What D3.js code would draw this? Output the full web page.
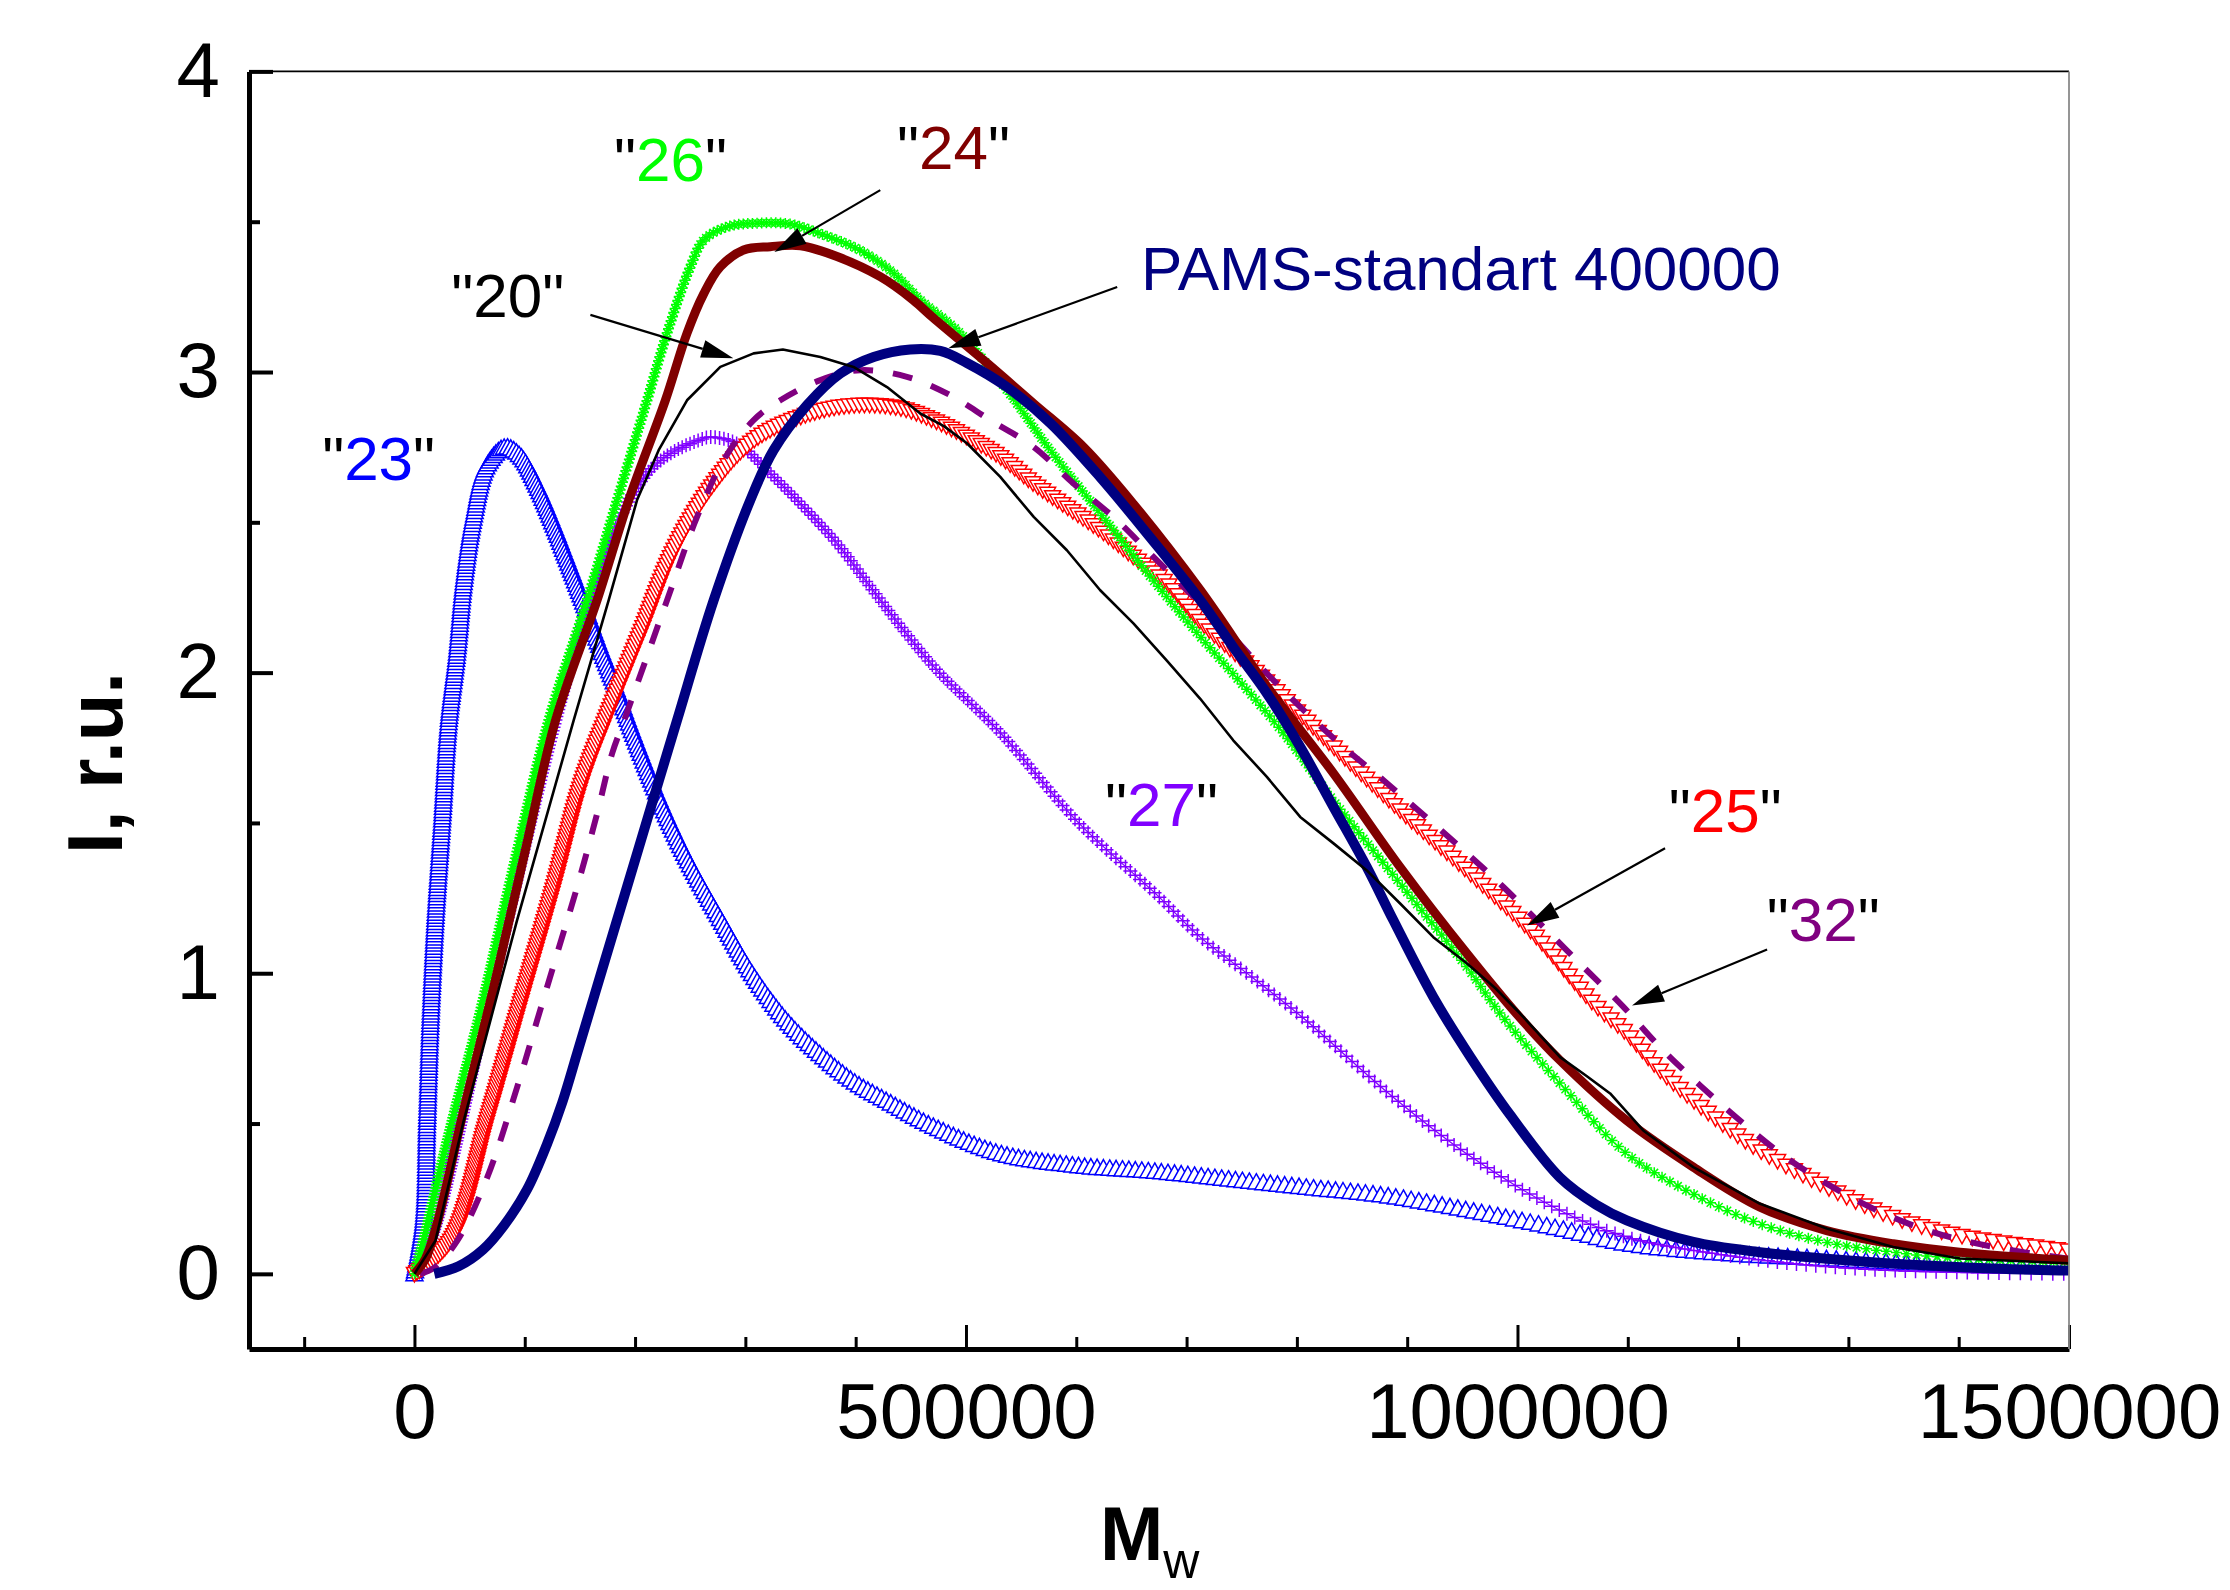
<!DOCTYPE html>
<html>
<head>
<meta charset="utf-8">
<title>Mw distributions</title>
<script src="https://d3js.org/d3.v7.min.js"></script>
<style>
  body { margin: 0; background: #fff; }
  text { font-family: "Liberation Sans", Arial, sans-serif; }
</style>
</head>
<body>
<script>
// curves: [Mw, I (r.u.)]
var s23 = [[0,0],[8400,0.18],[11500,0.51],[14500,0.84],[19000,1.18],[25100,1.51],[31100,1.84],[38700,2.07],[44700,2.30],[53800,2.52],[65900,2.69],[82500,2.75],[96100,2.72],[111200,2.62],[126300,2.49],[140000,2.36],[153500,2.23],[168600,2.08],[183700,1.94],[200000,1.78],[222900,1.57],[247100,1.38],[277300,1.18],[307500,0.99],[337800,0.84],[368000,0.73],[398100,0.64],[428400,0.575],[470600,0.49],[531000,0.40],[600000,0.36],[673000,0.34],[750000,0.31],[815000,0.285],[880000,0.26],[957600,0.21],[1038600,0.15],[1099000,0.10],[1189700,0.067],[1280300,0.05],[1371000,0.034],[1500000,0.022]];
var s26 = [[0,0],[8000,0.11],[30000,0.45],[60000,0.88],[90000,1.36],[121700,1.842],[156500,2.241],[183700,2.574],[210900,2.906],[229000,3.129],[250100,3.35],[262200,3.439],[283400,3.483],[310000,3.495],[341000,3.492],[368000,3.46],[404000,3.405],[434000,3.33],[458600,3.24],[494800,3.129],[537100,2.94],[576400,2.74],[621700,2.53],[667000,2.32],[712400,2.12],[757700,1.931],[787600,1.80],[833000,1.575],[893600,1.298],[954000,1.021],[984300,0.866],[1038600,0.633],[1099000,0.40],[1159000,0.266],[1219900,0.166],[1280300,0.105],[1340700,0.072],[1401000,0.051],[1500000,0.039]];
var s24 = [[0,0],[10000,0.05],[20000,0.16],[45000,0.55],[71900,0.954],[100000,1.40],[128000,1.842],[165600,2.241],[194300,2.574],[227500,2.906],[247100,3.129],[262200,3.26],[277300,3.35],[298400,3.406],[322600,3.417],[350000,3.42],[383100,3.384],[422300,3.317],[452000,3.24],[470400,3.18],[519000,3.03],[561400,2.895],[606700,2.75],[652100,2.56],[712400,2.275],[772800,1.955],[833200,1.665],[893600,1.353],[954000,1.066],[999000,0.866],[1038600,0.71],[1099000,0.51],[1159400,0.355],[1219900,0.222],[1280300,0.144],[1340700,0.10],[1401000,0.072],[1500000,0.045]];
var s20 = [[0,0],[19000,0.11],[44700,0.51],[93000,1.176],[144400,1.842],[176100,2.241],[201800,2.574],[221400,2.74],[247100,2.906],[277300,3.017],[307500,3.062],[334000,3.075],[368000,3.05],[398000,3.017],[428400,2.95],[458600,2.862],[480000,2.82],[500900,2.763],[531100,2.651],[561400,2.518],[591500,2.407],[621700,2.274],[651800,2.164],[682100,2.04],[712400,1.913],[742300,1.775],[772800,1.653],[803000,1.52],[833200,1.432],[863400,1.342],[893600,1.232],[923700,1.12],[954000,1.033],[980000,0.95],[1002400,0.866],[1038600,0.721],[1062000,0.66],[1084000,0.6],[1114000,0.477],[1159400,0.355],[1219900,0.233],[1280300,0.151],[1340700,0.089],[1401000,0.051],[1500000,0.035]];
var sPams = [[18000,0],[40000,0.025],[62000,0.08],[81000,0.16],[102000,0.28],[120000,0.43],[134000,0.57],[148000,0.74],[170000,1.01],[192700,1.287],[215000,1.56],[238100,1.842],[271300,2.241],[304500,2.574],[325600,2.74],[355900,2.89],[386100,2.995],[416300,3.05],[449500,3.075],[476700,3.07],[500900,3.03],[537100,2.95],[576400,2.83],[621700,2.65],[667000,2.45],[712400,2.241],[742300,2.085],[772800,1.931],[803000,1.753],[833200,1.553],[863400,1.353],[887500,1.176],[923800,0.92],[957600,0.72],[993100,0.53],[1038600,0.32],[1071300,0.23],[1099000,0.178],[1159400,0.106],[1219900,0.072],[1280300,0.05],[1340700,0.034],[1431000,0.018],[1500000,0.011]];
var s27 = [[0,0],[14500,0.11],[70000,0.96],[127800,1.842],[159500,2.241],[186700,2.518],[210900,2.662],[232000,2.729],[262200,2.779],[268300,2.784],[292400,2.762],[322600,2.662],[352800,2.551],[383100,2.43],[413300,2.285],[443500,2.141],[473700,2.008],[531100,1.80],[602100,1.50],[673300,1.26],[712400,1.12],[760000,0.985],[806000,0.85],[886500,0.59],[957600,0.39],[1038600,0.211],[1099000,0.122],[1159400,0.078],[1250000,0.034],[1340700,0.011],[1500000,0.0]];
var s25 = [[0,0],[32600,0.11],[65900,0.51],[96100,0.9],[126300,1.287],[150400,1.62],[173100,1.842],[204800,2.13],[235000,2.407],[271300,2.629],[307500,2.773],[352800,2.855],[398100,2.89],[440500,2.88],[470600,2.84],[500900,2.784],[531100,2.718],[561300,2.629],[591500,2.551],[621700,2.474],[651900,2.385],[682200,2.297],[712400,2.17],[772800,1.97],[833200,1.753],[893600,1.542],[954000,1.342],[1014400,1.132],[1068800,0.90],[1099000,0.80],[1129300,0.677],[1159500,0.577],[1189700,0.488],[1219900,0.41],[1280300,0.289],[1340700,0.189],[1401100,0.128],[1500000,0.078]];
var s32 = [[5000,0],[17800,0.02],[38700,0.11],[65900,0.32],[93100,0.621],[111200,0.843],[129300,1.065],[147500,1.287],[165600,1.531],[179200,1.731],[191000,1.85],[229000,2.241],[256200,2.518],[280300,2.707],[307500,2.84],[331700,2.906],[368000,2.973],[404200,3.006],[446500,2.984],[485800,2.923],[522000,2.84],[561300,2.751],[597500,2.629],[636900,2.507],[670000,2.385],[703300,2.263],[736500,2.141],[772800,1.997],[806000,1.875],[842200,1.753],[878500,1.642],[951000,1.409],[987200,1.287],[1023500,1.154],[1059700,1.021],[1096000,0.888],[1129300,0.754],[1165500,0.627],[1203300,0.505],[1241000,0.394],[1280300,0.30],[1322600,0.217],[1363400,0.155],[1404100,0.111],[1449400,0.078],[1500000,0.05]];

// axes
var xMajor = [0, 500000, 1000000, 1500000];
var xMinor = [-100000, 100000, 200000, 300000, 400000, 600000, 700000, 800000, 900000, 1100000, 1200000, 1300000, 1400000];
var yMajor = [0, 1, 2, 3, 4];
var yMinor = [0.5, 1.5, 2.5, 3.5];

// curve labels: text, anchor (Mw, I)
var noteNum = ["26", "24", "20", "23", "27", "25", "32"];
var noteMw  = [181000, 437500, 33300, -83700, 626000, 1137100, 1225900];
var noteI   = [3.634, 3.675, 3.183, 2.64, 1.489, 1.469, 1.106];
var pamsText = "PAMS-standart 400000";
var pamsMw = 658600, pamsI = 3.273;

// arrows: from (Mw, I) to (Mw, I)
var arrowFromMw = [422300, 159500, 637100, 1133800, 1226300];
var arrowFromI  = [3.605, 3.19, 3.283, 1.416, 1.079];
var arrowToMw   = [326300, 289100, 484000, 1008700, 1103800];
var arrowToI    = [3.399, 3.046, 3.079, 1.159, 0.893];

var width = 2230, height = 1590;
var plotLeft = 249, plotRight = 2069, plotTop = 71.4, plotBottom = 1349;

var svg = d3.select("body").append("svg")
  .attr("width", width)
  .attr("height", height);

var x = d3.scaleLinear().domain([-150000, 1500000]).range([plotLeft, plotRight]);
var y = d3.scaleLinear().domain([-0.25, 4]).range([plotBottom, plotTop]);

svg.append("defs").append("clipPath").attr("id", "plot")
  .append("rect").attr("x", plotLeft).attr("y", plotTop)
  .attr("width", plotRight - plotLeft).attr("height", plotBottom - plotTop);

var series = [
  {data: s23, color: "#0000ff", marker: "triUp", size: 17},
  {data: s27, color: "#8000ff", marker: "plus", size: 14},
  {data: s25, color: "#ff0000", marker: "triDown", size: 16},
  {data: s26, color: "#00ff00", marker: "asterisk", size: 11},
  {data: s32, color: "#800080", width: 6, dash: "20,20"},
  {data: s24, color: "#800000", width: 9},
  {data: sPams, color: "#000080", width: 10},
  {data: s20, color: "#000000", width: 2.6, linear: true}
];

function shape(kind, h) {
  var a = h / 2;
  if (kind == "triUp") return "M0," + (-h * 0.5) + "L" + a + "," + (h * 0.4) + "L" + (-a) + "," + (h * 0.4) + "Z";
  if (kind == "triDown") return "M0," + (h * 0.5) + "L" + a + "," + (-h * 0.4) + "L" + (-a) + "," + (-h * 0.4) + "Z";
  if (kind == "plus") return "M" + (-a) + ",0H" + a + "M0," + (-a) + "V" + a;
  var b = a * 0.7;
  return "M" + (-a) + ",0H" + a + "M0," + (-a) + "V" + a +
    "M" + (-b) + "," + (-b) + "L" + b + "," + b + "M" + (-b) + "," + b + "L" + b + "," + (-b);
}

var plot = svg.append("g").attr("clip-path", "url(#plot)");

series.forEach(function(s) {
  var line = d3.line()
    .x(d => x(d[0]))
    .y(d => y(d[1]))
    .curve(s.linear ? d3.curveLinear : d3.curveCatmullRom.alpha(0.5));
  var p = plot.append("path")
    .attr("d", line(s.data))
    .attr("fill", "none")
    .attr("stroke", s.color)
    .attr("stroke-width", s.marker ? 1.2 : s.width)
    .attr("stroke-linejoin", "round");
  if (s.dash) p.attr("stroke-dasharray", s.dash);
  if (!s.marker) return;
  if (s.marker == "asterisk") p.attr("stroke-opacity", 0);

  // symbols spaced along the drawn curve, denser at low Mw like the original scan
  var node = p.node(), total = node.getTotalLength(), pts = [], len = 0;
  while (len <= total) {
    var pt = node.getPointAtLength(len);
    pts.push(pt);
    len += 3 + 8 * (pt.x - x(0)) / (x(1500000) - x(0));
  }
  var filled = s.marker.indexOf("tri") == 0;
  plot.append("g").selectAll("path")
    .data(pts)
    .enter()
    .append("path")
    .attr("transform", d => `translate(${d.x},${d.y})`)
    .attr("d", shape(s.marker, s.size))
    .attr("fill", filled ? "#fff" : "none")
    .attr("stroke", s.color)
    .attr("stroke-width", 1.5);
});

// axes
var fontAxis = "Liberation Sans, Arial, sans-serif";
var gx = svg.append("g")
  .attr("transform", `translate(0,${plotBottom})`)
  .call(d3.axisBottom(x).tickValues(xMajor).tickFormat(d3.format("d"))
    .tickSize(-24).tickSizeOuter(0).tickPadding(34));
gx.attr("font-size", 78).attr("font-family", fontAxis);
gx.select(".domain").attr("stroke-width", 5);
gx.selectAll(".tick line").attr("stroke-width", 3);
gx.selectAll(".tick text").attr("fill", "#000");

var gxm = svg.append("g")
  .attr("transform", `translate(0,${plotBottom})`)
  .call(d3.axisBottom(x).tickValues(xMinor).tickFormat("").tickSize(-12).tickSizeOuter(0));
gxm.select(".domain").remove();
gxm.selectAll(".tick line").attr("stroke-width", 3);

var gy = svg.append("g")
  .attr("transform", `translate(${plotLeft},0)`)
  .call(d3.axisLeft(y).tickValues(yMajor).tickFormat(d3.format("d"))
    .tickSize(-24).tickSizeOuter(0).tickPadding(29));
gy.attr("font-size", 78).attr("font-family", fontAxis);
gy.select(".domain").attr("stroke-width", 5);
gy.selectAll(".tick line").attr("stroke-width", 4);
gy.selectAll(".tick text").attr("fill", "#000");

var gym = svg.append("g")
  .attr("transform", `translate(${plotLeft},0)`)
  .call(d3.axisLeft(y).tickValues(yMinor).tickFormat("").tickSize(-11).tickSizeOuter(0));
gym.select(".domain").remove();
gym.selectAll(".tick line").attr("stroke-width", 4);

// frame top and right
svg.append("line").attr("x1", plotLeft).attr("x2", plotRight).attr("y1", plotTop).attr("y2", plotTop)
  .attr("stroke", "#000").attr("stroke-width", 1.6);
svg.append("line").attr("x1", plotRight).attr("x2", plotRight).attr("y1", plotTop).attr("y2", plotBottom)
  .attr("stroke", "#8a8a8a").attr("stroke-width", 1.8);

// axis titles
svg.append("text")
  .attr("transform", "translate(122,763) rotate(-90)")
  .attr("text-anchor", "middle")
  .attr("font-size", 78)
  .attr("font-weight", "bold")
  .text("I, r.u.");

var mt = svg.append("text").attr("x", 1100).attr("y", 1560);
mt.append("tspan").attr("font-size", 76).attr("font-weight", "bold").text("M");
mt.append("tspan").attr("font-size", 50).attr("dy", 18).text("w");

// curve labels
var noteColor = {"26": "#00ff00", "24": "#800000", "20": "#000000", "23": "#0000ff",
                 "27": "#8000ff", "25": "#ff0000", "32": "#800080"};
noteNum.forEach(function(n, i) {
  var t = svg.append("text")
    .attr("x", x(noteMw[i]))
    .attr("y", y(noteI[i]))
    .attr("font-size", 62);
  t.append("tspan").attr("fill", "#000").text('"');
  t.append("tspan").attr("fill", noteColor[n]).text(n);
  t.append("tspan").attr("fill", "#000").text('"');
});
svg.append("text")
  .attr("x", x(pamsMw))
  .attr("y", y(pamsI))
  .attr("font-size", 62)
  .attr("fill", "#000080")
  .text(pamsText);

// arrows
arrowFromMw.forEach(function(d, i) {
  var x1 = x(arrowFromMw[i]), y1 = y(arrowFromI[i]);
  var x2 = x(arrowToMw[i]), y2 = y(arrowToI[i]);
  var dx = x2 - x1, dy = y2 - y1, L = Math.hypot(dx, dy);
  var ux = dx / L, uy = dy / L;
  var bx = x2 - ux * 32, by = y2 - uy * 32;
  svg.append("line")
    .attr("x1", x1).attr("y1", y1).attr("x2", bx).attr("y2", by)
    .attr("stroke", "#000").attr("stroke-width", 2.2);
  svg.append("path")
    .attr("d", `M${x2},${y2}L${bx - uy * 9},${by + ux * 9}L${bx + uy * 9},${by - ux * 9}Z`)
    .attr("fill", "#000");
});
</script>
</body>
</html>
